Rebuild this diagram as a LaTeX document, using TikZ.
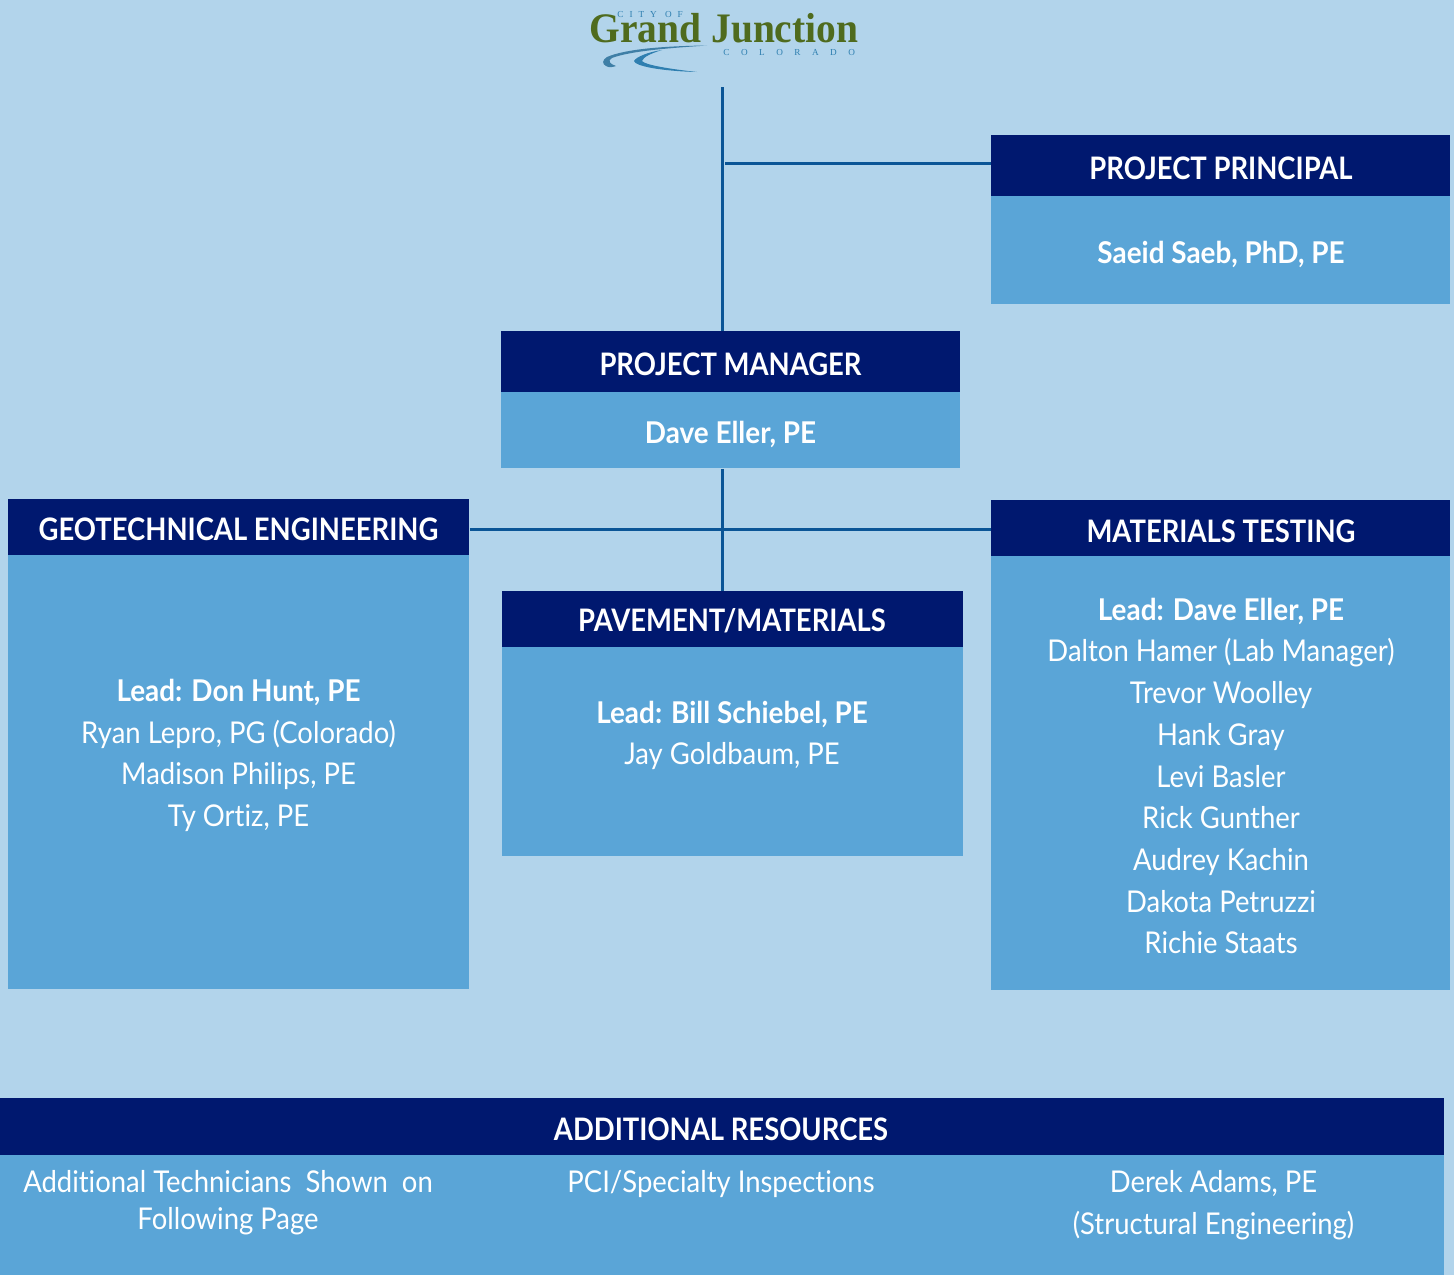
\documentclass[tikz,border=0pt]{standalone}
\usepackage{fontspec}
\setmainfont{Lato}[FakeStretch=0.915,Ligatures=NoCommon,BoldFeatures={FakeStretch=0.93}]
\newfontfamily\headfont{Lato}[FakeStretch=0.885,Ligatures=NoCommon]
\newfontfamily\logofont{Liberation Serif}[FakeStretch=0.94]
\newfontfamily\logocityfont{Liberation Serif}[LetterSpace=65]
\newfontfamily\logostatefont{Liberation Serif}[LetterSpace=125]
\definecolor{pagebg}{HTML}{B2D4EB}
\definecolor{headblue}{HTML}{00186F}
\definecolor{bodyblue}{HTML}{5AA5D7}
\definecolor{linkblue}{HTML}{0A5596}
\definecolor{logogreen}{HTML}{4F6B1E}
\definecolor{logoblue}{HTML}{2F7FB0}
\tikzset{
  headbox/.style={fill=headblue,text=white,inner sep=0pt,anchor=north west},
  headtext/.style={text=white,inner sep=0pt,font=\headfont\fontsize{15.5}{18}\selectfont\bfseries},
  bodybox/.style={fill=bodyblue,inner sep=0pt,anchor=north west},
  bodytext/.style={text=white,inner sep=0pt,align=center,font=\fontsize{15}{20.85}\selectfont},
  logosmalltext/.style={text=logoblue,inner sep=0pt,anchor=base west},
  link/.style={linkblue,line width=1.5pt}
}
\begin{document}
\begin{tikzpicture}[x=0.5pt,y=-0.5pt]
  \useasboundingbox[fill=pagebg] (0,0) rectangle (1454,1275) ;
  % logo
  \node[text=logogreen,inner sep=0pt,anchor=base,font=\logofont\fontsize{21}{24}\selectfont\bfseries] (logoname) at (724,42) {Grand Junction} ;
  \node[logosmalltext,font=\logocityfont\fontsize{4.6}{6}\selectfont] (logocity) at (617,17) {CITY OF} ;
  \node[logosmalltext,font=\logostatefont\fontsize{4.6}{6}\selectfont] (logostate) at (723,55) {COLORADO} ;
  \fill[logoblue!80!gray] (707,45.5) .. controls (665,46) and (625,49) .. (607,57) .. controls (602,60) and (602,64) .. (606,66) .. controls (609,68) and (613,67) .. (616,66) .. controls (610,64) and (607,61) .. (612,58) .. controls (630,51) and (670,48) .. (707,45.5) ;
  \fill[logoblue] (662,50) .. controls (648,52) and (636,57) .. (634,61) .. controls (635,66) and (660,71) .. (697,72) .. controls (670,69) and (645,65) .. (642,61) .. controls (643,57) and (652,53) .. (662,50) ;
  % boxes
  \node[bodybox,minimum width=229.5pt,minimum height=54pt] (principalbody) at (991,196) {} ;
  \node[headbox,minimum width=229.5pt,minimum height=30.5pt] (principal) at (991,135) {} ;
  \node[bodybox,minimum width=229.5pt,minimum height=38pt] (managerbody) at (501,392) {} ;
  \node[headbox,minimum width=229.5pt,minimum height=30.5pt] (manager) at (501,331) {} ;
  \node[bodybox,minimum width=230.5pt,minimum height=217pt] (geobody) at (8,555) {} ;
  \node[headbox,minimum width=230.5pt,minimum height=28pt] (geo) at (8,499) {} ;
  \node[bodybox,minimum width=230.5pt,minimum height=104.5pt] (pavebody) at (502,647) {} ;
  \node[headbox,minimum width=230.5pt,minimum height=28pt] (pave) at (502,591) {} ;
  \node[bodybox,minimum width=229.5pt,minimum height=217pt] (matbody) at (991,556) {} ;
  \node[headbox,minimum width=229.5pt,minimum height=28pt] (mat) at (991,500) {} ;
  \node[bodybox,minimum width=722pt,minimum height=60pt] (addbody) at (0,1155) {} ;
  \node[headbox,minimum width=722pt,minimum height=28.5pt] (add) at (0,1098) {} ;
  % titles
  \node[headtext] (principaltitle) at (1221,168) {PROJECT PRINCIPAL} ;
  \node[headtext] (managertitle) at (730.5,364) {PROJECT MANAGER} ;
  \node[headtext] (geotitle) at (238.5,529) {GEOTECHNICAL ENGINEERING} ;
  \node[headtext] (pavetitle) at (732,621) {PAVEMENT/MATERIALS} ;
  \node[headtext] (mattitle) at (1221,531) {MATERIALS TESTING} ;
  \node[headtext] (addtitle) at (721,1129) {ADDITIONAL RESOURCES} ;
  % texts
  \node[bodytext,font=\fontsize{15}{20.85}\selectfont\bfseries] (principalname) at (1221,254) {Saeid Saeb, PhD, PE} ;
  \node[bodytext,font=\fontsize{15}{20.85}\selectfont\bfseries] (managername) at (730.5,434) {Dave Eller, PE} ;
  \node[bodytext] (geonames) at (238.5,755.5) {\textbf{Lead: Don Hunt, PE}\\Ryan Lepro, PG (Colorado)\\Madison Philips, PE\\Ty Ortiz, PE} ;
  \node[bodytext] (pavenames) at (732,735.5) {\textbf{Lead: Bill Schiebel, PE}\\Jay Goldbaum, PE} ;
  \node[bodytext] (matnames) at (1221,776) {\textbf{Lead: Dave Eller, PE}\\Dalton Hamer (Lab Manager)\\Trevor Woolley\\Hank Gray\\Levi Basler\\Rick Gunther\\Audrey Kachin\\Dakota Petruzzi\\Richie Staats} ;
  \node[bodytext,font=\fontsize{15}{18.5}\selectfont] (addleft) at (228,1202.5) {Additional Technicians\ \ Shown\ \ on\\Following Page} ;
  \node[bodytext] (addmid) at (721,1184) {PCI/Specialty Inspections} ;
  \node[bodytext] (addright) at (1213.5,1205) {Derek Adams, PE\\(Structural Engineering)} ;
  % links
  \coordinate (logoend) at (722.5,87) ;
  \coordinate (principaljoin) at (725,163) ;
  \coordinate (crossjoin) at (480,529) ;
  \draw[link] (logoend) -- (logoend |- manager.north) ;
  \draw[link] (principaljoin) -- (principal.west |- principaljoin) ;
  \draw[link] (logoend |- managerbody.south) -- (logoend |- pave.north) ;
  \draw[link] (geo.east |- crossjoin) -- (mat.west |- crossjoin) ;
\end{tikzpicture}
\end{document}
